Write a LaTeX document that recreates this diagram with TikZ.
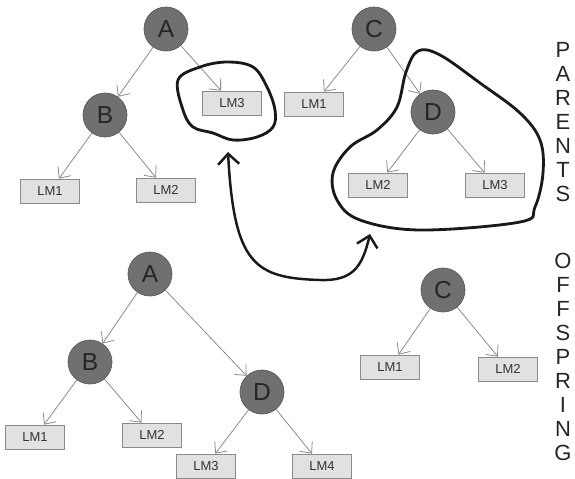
\documentclass[tikz,border=0pt]{standalone}
\usepackage{fontspec}
\setmainfont{Liberation Sans}
\usepackage{tikz}
\usetikzlibrary{arrows.meta,positioning}

\definecolor{funcgray}{HTML}{707070}
\definecolor{termfill}{HTML}{E1E1E1}
\definecolor{linegray}{HTML}{8A8A8A}

\begin{document}
\begin{tikzpicture}[x=0.02cm, y=-0.02cm,
    func/.style={draw=funcgray!80!black, circle, fill=funcgray, minimum size=0.88cm, inner sep=0pt, font=\fontsize{14}{14}\selectfont, text=black!85},
    term/.style={draw=linegray, rectangle, fill=termfill, minimum width=1.18cm, minimum height=0.48cm, inner sep=0pt, font=\fontsize{7.4}{8}\selectfont, text=black!80},
    arrow/.style={-{Straight Barb[length=5pt,width=9pt]}, draw=linegray, line width=0.45pt},
    outline/.style={line width=1.6pt, black!90},
    crossover/.style={{Straight Barb[length=6pt,width=12pt]}-{Straight Barb[length=6pt,width=12pt]}, line width=1.4pt, black!90},
    side/.style={align=center, font=\fontsize{12.5}{13.6}\selectfont, text=black!85}
]
\useasboundingbox (0,0) rectangle (575,478);

% parents, first tree
\node[func] (pA) at (166,29) {A};
\node[func] (pB) at (105,115) {B};
\node[term] (pA1) at (50,191) {LM1};
\node[term] (pA2) at (166,190) {LM2};
\node[term] (pA3) at (232,103) {LM3};

% parents, second tree
\node[func] (pC) at (374,29) {C};
\node[func] (pD) at (433,112) {D};
\node[term] (pC1) at (314,104) {LM1};
\node[term] (pD2) at (378,185) {LM2};
\node[term] (pD3) at (495,185) {LM3};

% offspring, first tree
\node[func] (oA) at (150,274) {A};
\node[func] (oB) at (90,362) {B};
\node[func] (oD) at (262,392) {D};
\node[term] (oB1) at (35,437) {LM1};
\node[term] (oB2) at (152,435) {LM2};
\node[term] (oD3) at (206,466) {LM3};
\node[term] (oD4) at (322,466) {LM4};

% offspring, second tree
\node[func] (oC) at (443,290) {C};
\node[term] (oC1) at (390,367) {LM1};
\node[term] (oC2) at (508,369) {LM2};

\draw[arrow] (pA) -- (pB);
\draw[arrow] (pA) -- (pA3);
\draw[arrow] (pB) -- (pA1);
\draw[arrow] (pB) -- (pA2);
\draw[arrow] (pC) -- (pC1);
\draw[arrow] (pC) -- (pD);
\draw[arrow] (pD) -- (pD2);
\draw[arrow] (pD) -- (pD3);
\draw[arrow] (oA) -- (oB);
\draw[arrow] (oA) -- (oD);
\draw[arrow] (oB) -- (oB1);
\draw[arrow] (oB) -- (oB2);
\draw[arrow] (oD) -- (oD3);
\draw[arrow] (oD) -- (oD4);
\draw[arrow] (oC) -- (oC1);
\draw[arrow] (oC) -- (oC2);

% subtrees swapped by crossover
\draw[outline] plot[smooth cycle, tension=0.6] coordinates {(178,80) (200,67) (227,62) (253,67) (267,87) (275,110) (273,127) (257,137) (233,140) (213,133) (193,127) (183,110)};
\draw[outline] plot[smooth cycle, tension=0.6] coordinates {(418,51) (440,55) (480,83) (520,113) (540,140) (543,173) (535,207) (520,222) (420,230) (360,220) (337,200) (333,173) (350,147) (377,130) (397,107) (406,72)};

\coordinate (tipL) at (228,152);
\coordinate (tipR) at (370,234);
\draw[crossover] (tipL) .. controls (234,265) and (255,278) .. (320,280) .. controls (352,281) and (362,268) .. (tipR);

\node[side] (parents) at (563,122) {P\\A\\R\\E\\N\\T\\S};
\node[side] (offspring) at (563,357) {O\\F\\F\\S\\P\\R\\I\\N\\G};
\end{tikzpicture}
\end{document}
